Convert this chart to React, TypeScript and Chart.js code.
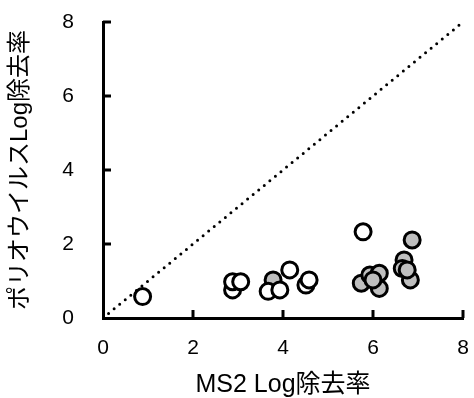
import React, { useEffect, useRef } from 'react';
import { Chart, registerables } from 'chart.js';

Chart.register(...registerables);

const tickValues = [0, 2, 4, 6, 8];

const whiteX = [0.88, 2.88, 2.88, 3.06, 3.67, 3.93, 4.15, 4.51, 4.58, 5.78];
const whiteY = [0.58, 0.76, 0.98, 0.98, 0.72, 0.76, 1.3, 0.89, 1.03, 2.33];

const grayX = [3.78, 5.74, 6.14, 5.93, 6.14, 6.0, 6.69, 6.65, 6.83, 6.76, 6.87];
const grayY = [1.03, 0.94, 0.8, 1.16, 1.21, 1.03, 1.57, 1.34, 1.03, 1.3, 2.11];

const lineX = [0, 8];
const lineY = [0, 8];

const xTitle = 'MS2 Log除去率';
const yTitle = 'ポリオウイルスLog除去率';

const FONT = "'Liberation Sans', Arial, 'Noto Sans CJK JP', sans-serif";

const innerTicks = {
  id: 'innerTicks',
  afterDatasetsDraw(chart: any) {
    const { ctx, chartArea, scales } = chart;
    ctx.save();
    ctx.strokeStyle = '#000';
    ctx.lineWidth = 3;
    ctx.lineCap = 'butt';
    tickValues.forEach((v) => {
      if (v === 0) return;
      const x = scales.x.getPixelForValue(v);
      ctx.beginPath();
      ctx.moveTo(x, chartArea.bottom);
      ctx.lineTo(x, chartArea.bottom - 8);
      ctx.stroke();
      const y = scales.y.getPixelForValue(v);
      ctx.beginPath();
      ctx.moveTo(chartArea.left, y);
      ctx.lineTo(chartArea.left + 8, y);
      ctx.stroke();
    });
    ctx.restore();
  },
};

export default function App() {
  const ref = useRef<HTMLCanvasElement>(null);
  useEffect(() => {
    if (!ref.current) return;
    const chart = new Chart(ref.current, {
      type: 'scatter',
      data: {
        datasets: [
          {
            label: 'white',
            data: whiteX.map((x, i) => ({ x, y: whiteY[i] })),
            backgroundColor: '#ffffff',
            borderColor: '#000000',
            borderWidth: 3,
            pointRadius: 8,
          },
          {
            label: 'gray',
            data: grayX.map((x, i) => ({ x, y: grayY[i] })),
            backgroundColor: '#bfbfbf',
            borderColor: '#000000',
            borderWidth: 3,
            pointRadius: 8,
          },
          {
            type: 'line',
            label: 'line',
            data: lineX.map((x, i) => ({ x, y: lineY[i] })),
            borderColor: '#000000',
            borderWidth: 3,
            borderDash: [0, 7.2],
            borderCapStyle: 'round',
            pointRadius: 0,
            showLine: true,
            fill: false,
          } as any,
        ],
      },
      options: {
        animation: false,
        responsive: false,
        devicePixelRatio: 1,
        layout: { padding: { top: 22, right: 4, left: 0, bottom: 0 } },
        plugins: { legend: { display: false }, tooltip: { enabled: false } },
        scales: {
          x: {
            type: 'linear',
            min: 0,
            max: 8,
            afterFit: (s: any) => {
              s.height = 80;
              s.paddingLeft = 0;
              s.paddingRight = 0;
              s.paddingTop = 0;
              s.paddingBottom = 0;
            },
            ticks: {
              stepSize: 2,
              padding: 18,
              color: '#000',
              font: { size: 21, family: FONT },
            },
            grid: { display: false, drawTicks: false },
            border: { display: true, color: '#000', width: 3 },
            title: {
              display: true,
              text: xTitle,
              color: '#000',
              font: { size: 25, family: FONT, lineHeight: 1 },
              padding: { top: 0, bottom: 0 },
            },
          },
          y: {
            type: 'linear',
            min: 0,
            max: 8,
            afterFit: (s: any) => {
              s.width = 103;
              s.paddingTop = 0;
              s.paddingBottom = 0;
              s.paddingLeft = 0;
              s.paddingRight = 0;
            },
            ticks: {
              stepSize: 2,
              padding: 29,
              color: '#000',
              font: { size: 21, family: FONT },
            },
            grid: { display: false, drawTicks: false },
            border: { display: true, color: '#000', width: 3 },
            title: {
              display: true,
              text: yTitle,
              color: '#000',
              font: { size: 24, family: FONT, lineHeight: 1 },
              padding: { top: 8, bottom: 0 },
            },
          },
        },
      },
      plugins: [innerTicks],
    });
    return () => chart.destroy();
  }, []);
  return (
    <div style={{ position: 'absolute', left: 0, top: 0, width: 474, height: 398 }}>
      <canvas ref={ref} width={474} height={398} />
    </div>
  );
}
